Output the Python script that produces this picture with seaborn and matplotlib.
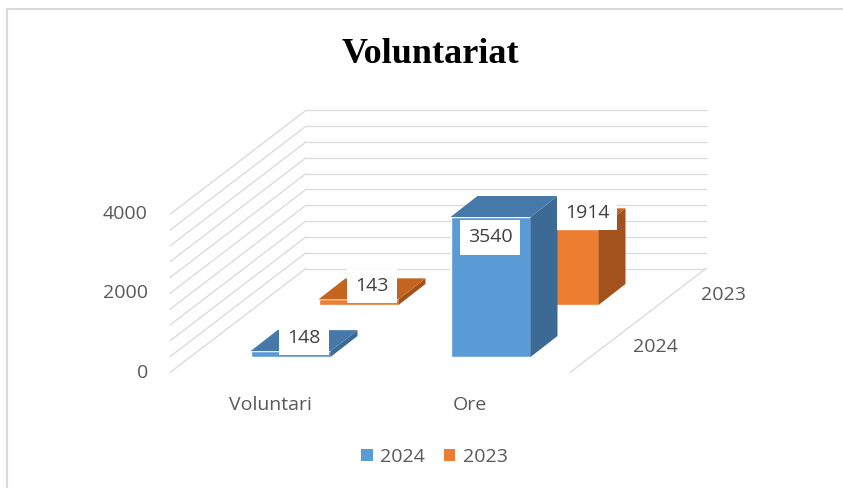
import matplotlib
matplotlib.use("Agg")
import matplotlib.pyplot as plt
import matplotlib.transforms as mtrans
from matplotlib.patches import Polygon, Patch
from matplotlib.lines import Line2D
import seaborn as sns

# date grafic
categories = ["Voluntari", "Ore"]
series = ["2024", "2023"]
values_2024 = [148, 3540]
values_2023 = [143, 1914]
y_ticks = [0, 2000, 4000]
y_max = 4000
grid_step = 400

sns.set_style("white")
plt.rcParams["font.family"] = ["Open Sans", "DejaVu Sans"]

W, H = 843, 488
fig = plt.figure(figsize=(W / 100, H / 100), dpi=100)

# geometrie pseudo-3D (pixeli)
row_dx, row_dy = 68, 52          # adancimea unui rand (o serie)
bar_dx, bar_dy = 27, 21          # adancimea unei coloane
floor_dx = -(row_dx - bar_dx) / 2
floor_dy = -(row_dy - bar_dy) / 2
front = [190.5, 131, 400, 158.2]  # left, bottom, width, height

colors = {"2024": ("#5B9BD5", "#3C6A94", "#4678A9"),
          "2023": ("#ED7D31", "#A3521E", "#C4651F")}
txt_grey = "#595959"
lbl_grey = "#404040"
fs = 14


def make_ax(r, z):
    l, b, w, h = front
    ax = fig.add_axes([(l + r * row_dx) / W, (b + r * row_dy) / H, w / W, h / H], zorder=z)
    ax.patch.set_alpha(0)
    return ax


def fix_ax(ax):
    ax.set_xlim(-0.5, 1.5)
    ax.set_ylim(0, y_max)
    ax.axis("off")


def proj(ax, x, v, dx=0, dy=0):
    px, py = ax.transData.transform((x, v))
    return ax.transData.inverted().transform((px + dx, py + dy))


# pereti si podea
ax_w = make_ax(0, 0)
fix_ax(ax_w)
line_kw = dict(color="#DCDCDC", lw=1, clip_on=False)
back_dx = floor_dx + 2 * row_dx
back_dy = floor_dy + 2 * row_dy
for v in range(0, y_max + 1, grid_step):
    a = proj(ax_w, -0.5, v, back_dx, back_dy)
    b = proj(ax_w, 1.5, v, back_dx, back_dy)
    c = proj(ax_w, -0.5, v, floor_dx, floor_dy)
    ax_w.plot([a[0], b[0]], [a[1], b[1]], **line_kw)
    ax_w.plot([c[0], a[0]], [c[1], a[1]], **line_kw)
c = proj(ax_w, 1.5, 0, floor_dx, floor_dy)
b = proj(ax_w, 1.5, 0, back_dx, back_dy)
ax_w.plot([c[0], b[0]], [c[1], b[1]], **line_kw)

for v in y_ticks:
    p = proj(ax_w, -0.5, v, floor_dx - 22, floor_dy)
    ax_w.text(p[0], p[1], str(v), ha="right", va="center", fontsize=fs, color=txt_grey)
for i, cat in enumerate(categories):
    p = proj(ax_w, i, 0, floor_dx, floor_dy - 32)
    ax_w.text(p[0], p[1], cat, ha="center", va="center", fontsize=fs, color=txt_grey)
for r, s in enumerate(series):
    p = proj(ax_w, 1.5, 0, floor_dx + row_dx * (r + 0.5) + 29, floor_dy + row_dy * (r + 0.5))
    ax_w.text(p[0], p[1], s, ha="left", va="center", fontsize=fs, color=txt_grey)

# coloane: randul din spate (2023) apoi cel din fata (2024)
ax_back = make_ax(1, 1)
ax_front = make_ax(0, 2)
sns.barplot(x=categories, y=values_2023, ax=ax_back, color=colors["2023"][0], width=0.4, saturation=1)
sns.barplot(x=categories, y=values_2024, ax=ax_front, color=colors["2024"][0], width=0.4, saturation=1)
fix_ax(ax_back)
fix_ax(ax_front)


def add_faces(ax, side_c, top_c):
    inv = ax.transData.inverted()
    for p in list(ax.patches):
        x0, y0 = p.get_x(), p.get_y()
        (dx0, dy0), (dx1, dy1) = ax.transData.transform([(x0, y0), (x0 + p.get_width(), y0 + p.get_height())])
        side = [(dx1, dy0), (dx1 + bar_dx, dy0 + bar_dy), (dx1 + bar_dx, dy1 + bar_dy), (dx1, dy1)]
        top = [(dx0, dy1), (dx1, dy1), (dx1 + bar_dx, dy1 + bar_dy), (dx0 + bar_dx, dy1 + bar_dy)]
        ax.add_patch(Polygon(inv.transform(side), closed=True, fc=side_c, ec="none", clip_on=False))
        ax.add_patch(Polygon(inv.transform(top), closed=True, fc=top_c, ec="none", clip_on=False))


add_faces(ax_back, *colors["2023"][1:])
add_faces(ax_front, *colors["2024"][1:])

# etichete valori (pe axa din fata ca sa fie deasupra)
label_offsets = {("2024", "Ore"): (-14, -31), ("2023", "Ore"): (15, 6)}
for r, (s, vals) in enumerate(zip(series, [values_2024, values_2023])):
    src = ax_front if r == 0 else ax_back
    for i, (cat, v) in enumerate(zip(categories, vals)):
        ox, oy = label_offsets.get((s, cat), (0, 3))
        px, py = src.transData.transform((i, v))
        px += bar_dx / 2 + ox
        py += bar_dy / 2 + oy
        tx, ty = ax_front.transData.inverted().transform((px, py))
        ax_front.text(tx, ty, str(v), ha="center", va="center", fontsize=fs, color=lbl_grey,
                      zorder=10, bbox=dict(boxstyle="square,pad=0.42", fc="white", ec="none"))

# titlu
fig.text(430 / W, 1 - 63 / H, "Voluntariat", ha="center", va="baseline", color="black",
         fontsize=26, fontweight="bold", family=["Liberation Serif", "DejaVu Serif"])

# legenda
handles = [Patch(facecolor=colors[s][0], edgecolor="none", label=s) for s in series]
fig.legend(handles=handles, loc="center", bbox_to_anchor=(434.5 / W, 1 - 457 / H), ncol=2,
           frameon=False, fontsize=fs, handlelength=0.6, handleheight=0.6,
           handletextpad=0.4, columnspacing=0.95, labelcolor=txt_grey)

# chenar
border = dict(color="#D9D9D9", lw=1.5, transform=fig.transFigure)
fig.add_artist(Line2D([7 / W, 1], [1 - 9 / H, 1 - 9 / H], **border))
fig.add_artist(Line2D([7 / W, 7 / W], [0, 1 - 9 / H], **border))

fig.savefig("out.png", dpi=100, facecolor="white")
